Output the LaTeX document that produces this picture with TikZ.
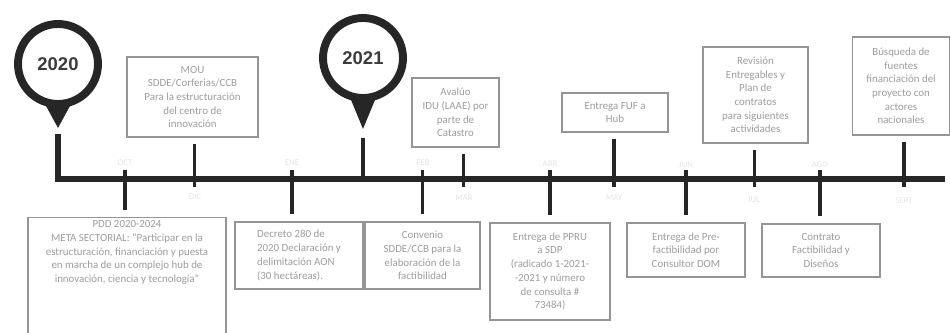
\documentclass[tikz,border=0pt]{standalone}
\usepackage{fontspec}
\setmainfont{Carlito}
\newfontfamily\yearfont{Liberation Sans}
\usetikzlibrary{positioning,calc}
\definecolor{ink}{HTML}{262626}
\definecolor{boxln}{HTML}{959595}
\definecolor{boxtx}{HTML}{9E9E9E}
\definecolor{month}{HTML}{E4E4E4}
\tikzset{
  evt/.style   ={draw=boxln, line width=0.6pt, fill=white, text=boxtx, align=center,
                 font=\fontsize{6.2}{7.8}\selectfont, inner sep=2pt},
  axisln/.style={draw=ink, line width=3.4pt},
  tick/.style  ={draw=ink, line width=1.8pt},
  ring/.style  ={circle, draw=ink, line width=4.5pt, fill=white, minimum size=1.6cm,
                 inner sep=0pt, text=ink!90, font=\yearfont\bfseries\fontsize{10.5}{10.5}\selectfont},
  mon/.style   ={font=\fontsize{5}{5}\selectfont, text=month},
}

\begin{document}
\begin{tikzpicture}[x=0.02cm, y=-0.02cm]
  \useasboundingbox (0,0) rectangle (950,333);

  % ---- year markers ----
  \node[ring] (y20) at (58,64) {2020};
  \node[ring] (y21) at (363,58) {2021};
  \fill[ink] ($(y20.south)+(-12,-2)$) -- ($(y20.south)+(12,-2)$) -- ($(y20.south)+(0,20)$) -- cycle;
  \fill[ink] ($(y21.south)+(-12,-2)$) -- ($(y21.south)+(12,-2)$) -- ($(y21.south)+(0,27)$) -- cycle;

  % ---- timeline ----
  \coordinate (tlend) at (945,179);
  \draw[axisln] ($(y20.south)+(0,26)$) |- (tlend);
  \draw[tick] ($(y21.south)+(0,36)$) -- ($(y21.south |- tlend)$);

  % ---- events above ----
  \node[evt, minimum width=2.62cm, minimum height=1.6cm]  (mou)  at (192.5,97)
       {MOU\\SDDE/Corferias/CCB\\Para la estructuración\\del centro de\\innovación};
  \node[evt, minimum width=1.74cm, minimum height=1.38cm] (aval) at (455.5,112.5)
       {Avalúo\\IDU (LAAE) por\\parte de\\Catastro};
  \node[evt, minimum width=2.12cm, minimum height=0.78cm] (entT) at (615,112.5)
       {Entrega FUF a\\Hub};
  \node[evt, minimum width=2.1cm, minimum height=1.92cm]  (revi) at (755.5,95)
       {Revisión\\Entregables y\\Plan de\\contratos\\para siguientes\\actividades};
  \node[evt, minimum width=1.94cm, minimum height=1.96cm] (busq) at (901,86)
       {Búsqueda de\\fuentes\\financiación del\\proyecto con\\actores\\nacionales};

  % ---- events below ----
  \node[evt, minimum width=3.96cm, minimum height=2.18cm, text depth=0.95cm] (pdd) at (127,275.5)
       {PDD 2020-2024\\META SECTORIAL: ``Participar en la\\estructuración, financiación y puesta\\en marcha de un complejo hub de\\innovación, ciencia y tecnología''};
  \node[evt, align=left, minimum width=2.56cm, minimum height=1.34cm] (dec) at (299,255.5)
       {Decreto 280 de\\2020 Declaración y\\delimitación AON\\(30 hectáreas).};
  \node[evt, minimum width=2.3cm, minimum height=1.34cm]  (conv) at (422.5,255.5)
       {Convenio\\SDDE/CCB para la\\elaboración de la\\factibilidad};
  \node[evt, minimum width=2.4cm, minimum height=1.94cm]  (ppru) at (550,271.5)
       {Entrega de PPRU\\a SDP\\(radicado 1-2021-\\-2021 y número\\de consulta \#\\73484)};
  \node[evt, minimum width=2.36cm, minimum height=1.08cm] (pref) at (686,250)
       {Entrega de Pre-\\factibilidad por\\Consultor DOM};
  \node[evt, minimum width=2.36cm, minimum height=1.06cm] (cont) at (821,250.5)
       {Contrato\\Factibilidad y\\Diseños};

  % ---- ticks ----
  \foreach \b/\dx in {mou/2, aval/8, entT/-1, revi/-1, busq/3}
    \draw[tick] ($(\b.south)+(\dx,6)$) -- ($(\b.south |- tlend)+(\dx,8)$);
  \foreach \b/\dx in {pdd/-2, dec/-7, conv/0, ppru/0, pref/0, cont/-1}
    \draw[tick] ($(\b.north |- tlend)+(\dx,-9)$) -- ($(\b.north)+(\dx,-7)$);

  % ---- faint month marks ----
  \foreach \x/\y/\t [count=\i] in {125/163/OCT, 195/197/DIC, 292/163/ENE, 423/163/FEB,
      464/198/MAR, 550/164/ABR, 614/198/MAY, 686/165/JUN, 754/200/JUL, 820/165/AGO, 904/201/SEPT}
    \node[mon] (m\i) at (\x,\y) {\t};

\end{tikzpicture}
\end{document}
